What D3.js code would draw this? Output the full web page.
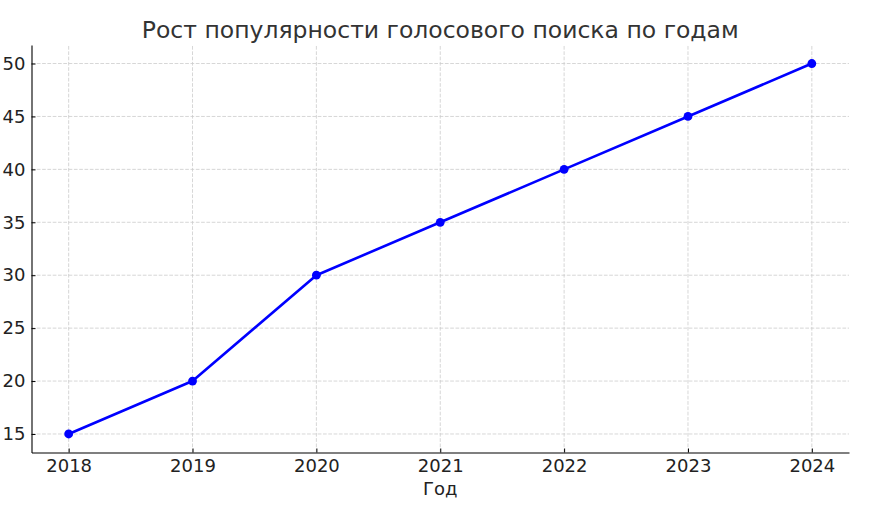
<!DOCTYPE html>
<html>
<head>
<meta charset="utf-8">
<script src="https://cdn.jsdelivr.net/npm/d3@7"></script>
<style>
  body { margin: 0; background: #fff; }
  svg { font-family: "DejaVu Sans", sans-serif; }
</style>
</head>
<body>
<svg id="chart" width="870" height="513"></svg>
<script>
// Chart data
const years = [2018, 2019, 2020, 2021, 2022, 2023, 2024];
const popularity = [15, 20, 30, 35, 40, 45, 50];
const yTicks = [15, 20, 25, 30, 35, 40, 45, 50];
const chartTitle = "Рост популярности голосового поиска по годам";
const xLabel = "Год";

const width = 870, height = 513;
const margin = { top: 45, right: 21, bottom: 60.5, left: 31.5 };

const svg = d3.select("#chart");

const x = d3.scaleLinear()
    .domain([2017.7, 2024.3])
    .range([margin.left, width - margin.right]);

const y = d3.scaleLinear()
    .domain([13.25, 51.75])
    .range([height - margin.bottom, margin.top]);

// grid lines
const grid = svg.append("g")
    .attr("stroke", "#cccccc")
    .attr("stroke-width", 0.8)
    .attr("stroke-dasharray", "3.7,1.6");

grid.selectAll("line.vx")
    .data(years)
    .join("line")
    .attr("x1", d => x(d)).attr("x2", d => x(d))
    .attr("y1", y.range()[0]).attr("y2", y.range()[1]);

grid.selectAll("line.hy")
    .data(yTicks)
    .join("line")
    .attr("x1", x.range()[0]).attr("x2", x.range()[1])
    .attr("y1", d => y(d)).attr("y2", d => y(d));

// axes (ticks pointing inward)
const xAxis = svg.append("g")
    .attr("transform", `translate(0,${height - margin.bottom})`)
    .call(d3.axisBottom(x).tickValues(years).tickFormat(d3.format("d"))
        .tickSizeInner(-4).tickSizeOuter(0).tickPadding(7));

const yAxis = svg.append("g")
    .attr("transform", `translate(${margin.left},0)`)
    .call(d3.axisLeft(y).tickValues(yTicks)
        .tickSizeInner(-4).tickSizeOuter(0).tickPadding(6));

[xAxis, yAxis].forEach(g => {
    g.select(".domain").attr("stroke", "#000").attr("stroke-width", 1.1);
    g.selectAll(".tick line").attr("stroke", "#000").attr("stroke-width", 1);
    g.selectAll(".tick text")
        .attr("fill", "#222")
        .attr("font-size", "18px")
        .attr("font-family", "DejaVu Sans, sans-serif");
});

// line + markers
const line = d3.line()
    .x((d, i) => x(years[i]))
    .y(d => y(d));

svg.append("path")
    .datum(popularity)
    .attr("fill", "none")
    .attr("stroke", "#0000ff")
    .attr("stroke-width", 2.6)
    .attr("stroke-linejoin", "round")
    .attr("d", line);

svg.selectAll("circle.pt")
    .data(popularity)
    .join("circle")
    .attr("class", "pt")
    .attr("cx", (d, i) => x(years[i]))
    .attr("cy", d => y(d))
    .attr("r", 4.4)
    .attr("fill", "#0000ff");

// title and axis label
svg.append("text")
    .attr("x", (x.range()[0] + x.range()[1]) / 2)
    .attr("y", 38)
    .attr("text-anchor", "middle")
    .attr("font-size", "23.5px")
    .attr("fill", "#333")
    .text(chartTitle);

svg.append("text")
    .attr("x", (x.range()[0] + x.range()[1]) / 2)
    .attr("y", 495)
    .attr("text-anchor", "middle")
    .attr("font-size", "18px")
    .attr("fill", "#222")
    .text(xLabel);
</script>
</body>
</html>
